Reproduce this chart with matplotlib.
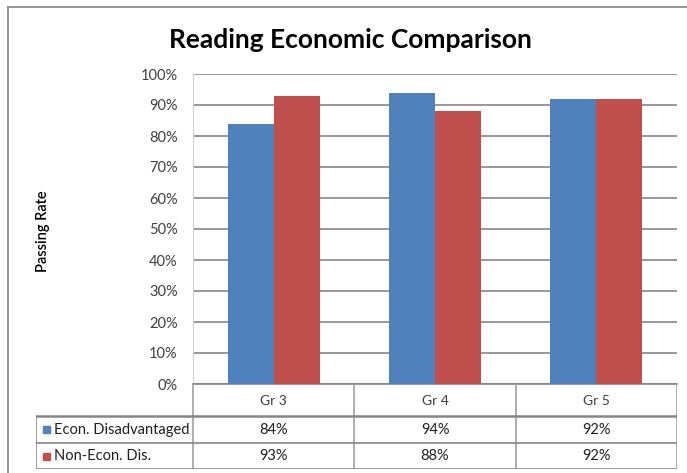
import numpy as np
import matplotlib.pyplot as plt
from matplotlib.lines import Line2D
from matplotlib.patches import Rectangle

# data
categories = ["Gr 3", "Gr 4", "Gr 5"]
series_names = ["Econ. Disadvantaged", "Non-Econ. Dis."]
econ_dis = [84, 94, 92]
non_econ = [93, 88, 92]
series_colors = ["#4F81BD", "#C0504D"]
yticks = list(range(0, 101, 10))

W, H = 687, 473
FONT = ["Lato", "DejaVu Sans"]
GRID = "#868686"


def fx(px):
    return px / W


def fy(py):
    return 1 - py / H


fig = plt.figure(figsize=(W / 100, H / 100), dpi=100)
fig.patch.set_facecolor("white")

# outer chart frame (left + top visible)
fig.add_artist(Line2D([fx(8), fx(8)], [fy(7), fy(H)], color=GRID, lw=1.2))
fig.add_artist(Line2D([fx(8), fx(W)], [fy(7), fy(7)], color=GRID, lw=1.2))

fig.text(fx(350), fy(40), "Reading Economic Comparison", ha="center", va="center",
         fontsize=19, fontweight="bold", family=FONT, color="black")

# plot area
left, right, top, bottom = 193, 677, 74, 384
ax = fig.add_axes([fx(left), fy(bottom), fx(right - left), (bottom - top) / H])
x = np.arange(len(categories))
bw = 0.285
data = [econ_dis, non_econ]
for i, (vals, col) in enumerate(zip(data, series_colors)):
    ax.bar(x + (i - 0.5) * bw, vals, width=bw, color=col, zorder=3)

ax.set_xlim(-0.5, len(categories) - 0.5)
ax.set_ylim(0, 100)
ax.set_yticks(yticks)
ax.set_yticklabels([f"{t}%" for t in yticks], family=FONT, fontsize=10.5, color="#404040")
ax.tick_params(axis="y", length=0, pad=11)
ax.set_xticks([])
ax.yaxis.grid(True, color=GRID, lw=1.2, zorder=0)
for s in ["top", "right"]:
    ax.spines[s].set_visible(False)
ax.spines["left"].set_color("#D0D0D0")
ax.spines["bottom"].set_color(GRID)
ax.spines["bottom"].set_linewidth(1.2)

fig.text(fx(43), fy(231), "Passing Rate", rotation=90, ha="center", va="center",
         fontsize=10.5, fontweight="semibold", family=FONT, color="black")

# data table below plot area
tleft, tbot = 36, 469
unit = (right - left) / len(categories)
first = -0.5 - (left - tleft) / unit
tab = fig.add_axes([fx(tleft), fy(tbot), fx(right - tleft), (tbot - bottom) / H])
tab.set_xlim(first, len(categories) - 0.5)
tab.set_ylim(tbot, bottom)
tab.axis("off")

row_tops = [416, 443, 469]
for k in range(len(categories) + 1):
    xb = k - 0.5
    tab.plot([xb, xb], [bottom, tbot], color="#A0A0A0", lw=1.2)
tab.plot([first, first], [row_tops[0], tbot], color=GRID, lw=1.2)
tab.plot([first, len(categories) - 0.5], [row_tops[0], row_tops[0]], color=GRID, lw=1.8)
for yy in row_tops[1:]:
    tab.plot([first, len(categories) - 0.5], [yy, yy], color=GRID, lw=1.2)

for j, c in enumerate(categories):
    tab.text(j, 401, c, ha="center", va="center", fontsize=10, family=FONT, color="#404040")

for i, (name, vals, col) in enumerate(zip(series_names, data, series_colors)):
    yc = (row_tops[i] + row_tops[i + 1]) / 2
    tab.add_patch(Rectangle((first + 7 / unit, yc + 3.5), 7 / unit, -7, color=col))
    tab.text(first + 18 / unit, yc, name, ha="left", va="center", fontsize=10.5,
             family=FONT, color="#202020")
    for j, v in enumerate(vals):
        tab.text(j, yc, f"{v}%", ha="center", va="center", fontsize=10.5,
                 family=FONT, color="#202020")

fig.savefig("out.png", dpi=100)
